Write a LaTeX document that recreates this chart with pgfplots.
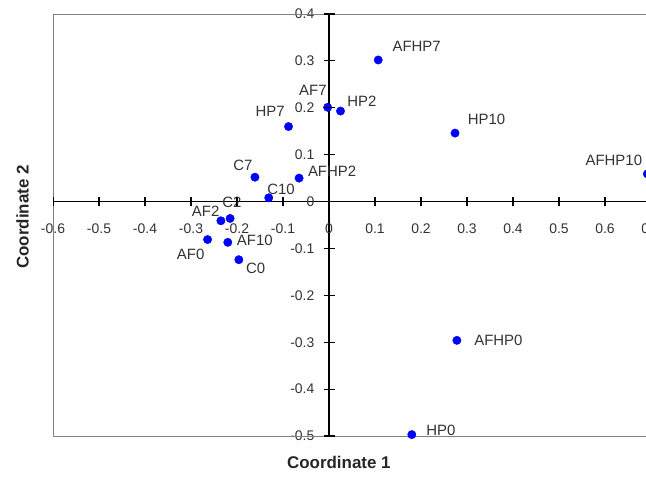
\documentclass[border=0pt]{standalone}
\usepackage{fontspec}
\setmainfont{Liberation Sans}
\usepackage{pgfplots}
\usepackage{pgfplotstable}
\pgfplotsset{compat=1.18}

% x y label, then label offset (bp) from the point
\pgfplotstableread{
x      y      label   dx     dy
0.107  0.302  AFHP7   38.4   13.3
-0.003 0.201  AF7    -14.7   17.0
0.025  0.193  HP2     21.3    9.3
-0.088 0.160  HP7    -18.3   15.0
0.274  0.146  HP10    31.5   14.0
0.692  0.059  AFHP10 -33.5   14.0
-0.161 0.052  C7     -12.0   12.3
-0.065 0.050  AFHP2   33.0    6.6
-0.131 0.008  C10     12.3    8.4
-0.215 -0.036 C2       1.7   15.6
-0.235 -0.041 AF2    -15.2    9.0
-0.264 -0.081 AF0    -16.9  -14.7
-0.220 -0.087 AF10    27.0    1.6
-0.196 -0.124 C0      16.8   -9.0
0.278  -0.296 AFHP0   41.5    0.0
0.180  -0.497 HP0     29.0    4.0
}\pts

\begin{document}
\begin{tikzpicture}
\begin{axis}[
    name=ax,
    at={(0,0)}, anchor=south west,
    scale only axis,
    width=598bp, height=422bp,
    xmin=-0.6, xmax=0.7, ymin=-0.5, ymax=0.4,
    clip=false,
    axis lines=middle,
    axis line style={-, black, line width=1.1pt},
    xtick={-0.6,-0.5,-0.4,-0.3,-0.2,-0.1,0,0.1,0.2,0.3,0.4,0.5,0.6,0.7},
    ytick={-0.5,-0.4,-0.3,-0.2,-0.1,0,0.1,0.2,0.3,0.4},
    hide obscured x ticks=false, hide obscured y ticks=false,
    tick align=center,
    major tick length=9bp,
    xtick style={draw=black, line width=1pt},
    ytick style={draw=black, line width=1pt},
    /pgf/number format/assume math mode=true,
    ticklabel style={font=\fontsize{14}{14}\selectfont, text=black!80, inner sep=0pt},
    xticklabel style={anchor=center, yshift=-23bp},
    yticklabel style={anchor=east, xshift=-10bp},
    xlabel={Coordinate 1}, ylabel={Coordinate 2},
    xlabel style={at={(axis description cs:0.478,-0.0633)}, anchor=center,
        font=\bfseries\fontsize{17}{18}\selectfont, text=black!85},
    ylabel style={at={(axis description cs:-0.0507,0.519)}, anchor=center, rotate=90,
        font=\bfseries\fontsize{17}{18}\selectfont, text=black!85},
]
\draw[gray, line width=0.8pt] (rel axis cs:0,0) rectangle (rel axis cs:1,1);
\addplot[
    only marks, mark=*, mark size=4.2bp,
    mark options={draw=blue, fill=blue},
    nodes near coords,
    point meta=explicit symbolic,
    visualization depends on={\thisrow{dx} \as \dx},
    visualization depends on={\thisrow{dy} \as \dy},
    every node near coord/.append style={anchor=center, inner sep=0pt,
        xshift=\dx bp, yshift=\dy bp,
        font=\fontsize{15}{15}\selectfont, text=black!80},
] table[x=x, y=y, meta=label] {\pts};
\end{axis}
% tick marks crossing the axis lines (origin at 276bp, 234.4bp from the axis corner)
\foreach \t in {-0.6,-0.5,-0.4,-0.3,-0.2,-0.1,0.1,0.2,0.3,0.4,0.5,0.6,0.7}{
  \pgfmathsetmacro{\px}{(\t+0.6)/1.3*598}
  \draw[black, line width=1pt] (\px bp, 229.9bp) -- (\px bp, 238.9bp);
}
\foreach \t in {-0.5,-0.4,-0.3,-0.2,-0.1,0.1,0.2,0.3,0.4}{
  \pgfmathsetmacro{\py}{(\t+0.5)/0.9*422}
  \draw[black, line width=1.1pt] (270.5bp, \py bp) -- (281.5bp, \py bp);
}
\pgfresetboundingbox
\path (-53bp,-42bp) rectangle (593bp,436bp);
\end{tikzpicture}
\end{document}
